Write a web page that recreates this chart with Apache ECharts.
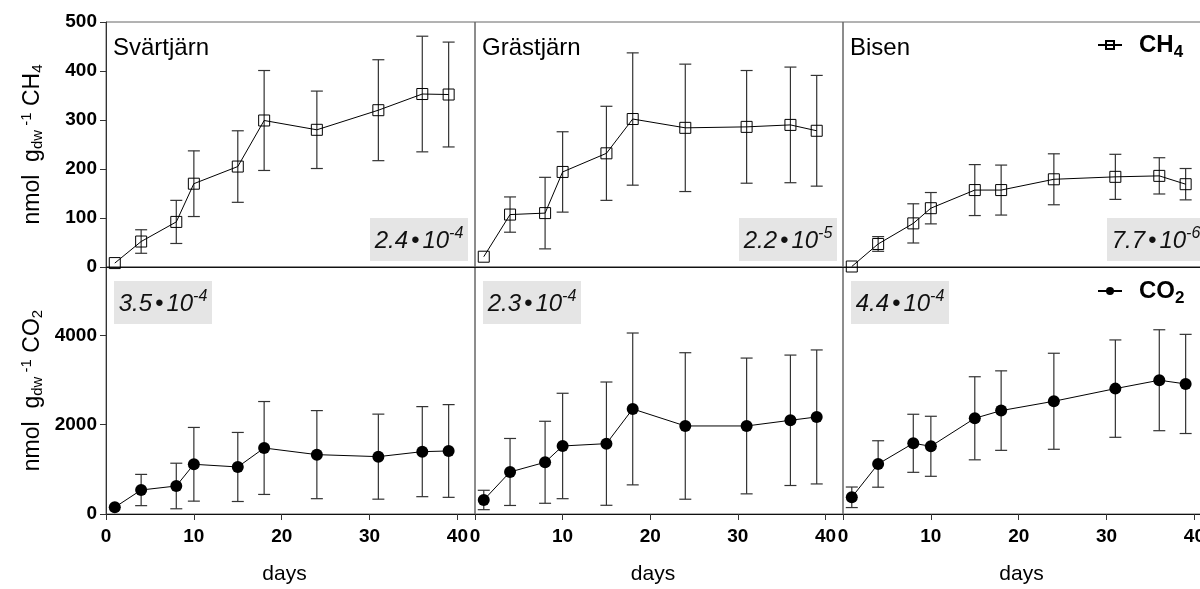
<!DOCTYPE html>
<html>
<head>
<meta charset="utf-8">
<script src="https://cdn.jsdelivr.net/npm/echarts@6/dist/echarts.min.js"></script>
<style>html,body{margin:0;padding:0;background:#fff}#c{width:1200px;height:589px}</style>
</head>
<body>
<div id="c"></div>
<script>
// ---- data ----
const days = [1, 4, 8, 10, 15, 18, 24, 31, 36, 39];
const sites = ['Svärtjärn', 'Grästjärn', 'Bisen'];

const ch4Svartjarn   = [8, 52, 92, 170, 205, 299, 280, 320, 353, 352];
const ch4SvartjarnSd = [0, 24, 44, 67, 73, 102, 79, 103, 118, 107];
const ch4Grastjarn   = [21, 107, 110, 194, 232, 302, 284, 286, 290, 278];
const ch4GrastjarnSd = [0, 36, 73, 82, 96, 135, 130, 115, 118, 113];
const ch4Bisen       = [1, 47, 89, 120, 157, 157, 179, 184, 186, 169];
const ch4BisenSd     = [0, 15, 40, 32, 52, 51, 52, 46, 37, 32];

const co2Svartjarn   = [150, 537, 627, 1113, 1053, 1478, 1329, 1284, 1396, 1411];
const co2SvartjarnSd = [0, 350, 510, 825, 773, 1040, 986, 952, 1008, 1038];
const co2Grastjarn   = [314, 941, 1158, 1523, 1575, 2352, 1971, 1971, 2098, 2173];
const co2GrastjarnSd = [217, 750, 918, 1180, 1380, 1700, 1640, 1520, 1460, 1500];
const co2Bisen       = [374, 1120, 1583, 1516, 2143, 2315, 2524, 2807, 2995, 2912];
const co2BisenSd     = [230, 520, 650, 672, 930, 890, 1075, 1090, 1130, 1110];

const ch4Rates = [['2.4', '-4'], ['2.2', '-5'], ['7.7', '-6']];
const co2Rates = [['3.5', '-4'], ['2.3', '-4'], ['4.4', '-4']];

const xTicks = [0, 10, 20, 30, 40];
const ch4Ticks = [0, 100, 200, 300, 400, 500];
const co2Ticks = [0, 2000, 4000];

// ---- layout ----
const FONT = "'Liberation Sans', Arial, Helvetica, sans-serif";
const colLeft = [106, 475, 843];
const colWidth = [369, 368, 369];
const rowTop = [22, 267];
const rowHeight = [245, 247];

const ch4Vals = [ch4Svartjarn, ch4Grastjarn, ch4Bisen];
const ch4Sds = [ch4SvartjarnSd, ch4GrastjarnSd, ch4BisenSd];
const co2Vals = [co2Svartjarn, co2Grastjarn, co2Bisen];
const co2Sds = [co2SvartjarnSd, co2GrastjarnSd, co2BisenSd];

const grid = [], xAxis = [], yAxis = [], series = [], graphic = [];

const titleRich = {
  t: { fontSize: 23, fontFamily: FONT, color: '#000' },
  sub: { fontSize: 15, fontFamily: FONT, color: '#000', padding: [10, 0, 0, 0] },
  sup: { fontSize: 15, fontFamily: FONT, color: '#000', padding: [0, 0, 13, 0] }
};

function errRender(params, api) {
  const x = api.value(0), y = api.value(1), sd = api.value(2);
  if (!sd) return null;
  const top = api.coord([x, y + sd]);
  const bot = api.coord([x, y - sd]);
  const hw = 6;
  const st = { stroke: '#333', lineWidth: 1.2 };
  return {
    type: 'group',
    children: [
      { type: 'line', shape: { x1: top[0], y1: top[1], x2: bot[0], y2: bot[1] }, style: st },
      { type: 'line', shape: { x1: top[0] - hw, y1: top[1], x2: top[0] + hw, y2: top[1] }, style: st },
      { type: 'line', shape: { x1: bot[0] - hw, y1: bot[1], x2: bot[0] + hw, y2: bot[1] }, style: st }
    ]
  };
}

for (let row = 0; row < 2; row++) {
  for (let col = 0; col < 3; col++) {
    const gi = row * 3 + col;
    grid.push({
      left: colLeft[col], top: rowTop[row], width: colWidth[col], height: rowHeight[row],
      outerBoundsMode: 'none', containLabel: false,
      show: true, borderColor: '#666', borderWidth: 1, backgroundColor: 'transparent'
    });
    xAxis.push({
      gridIndex: gi, type: 'value', min: 0, max: 42, interval: 10,
      axisLine: { show: true, onZero: false, lineStyle: { color: '#111', width: 1 } },
      axisTick: { show: row === 1, customValues: xTicks, length: 6, lineStyle: { color: '#333' } },
      axisLabel: { show: row === 1, customValues: xTicks, formatter: v => String(v), margin: 13,
                   fontFamily: FONT, fontSize: 19, fontWeight: 'bold', color: '#000' },
      splitLine: { show: false },
      name: row === 1 ? 'days' : '',
      nameLocation: 'middle', nameGap: 50,
      nameTextStyle: { fontFamily: FONT, fontSize: 21, color: '#000', padding: [0, 12, 0, 0] }
    });
    const isCh4 = row === 0;
    yAxis.push({
      gridIndex: gi, type: 'value', min: 0, max: isCh4 ? 500 : 5530, interval: isCh4 ? 100 : 2000,
      axisLine: { show: col === 0, onZero: false, lineStyle: { color: '#333', width: 1 } },
      axisTick: { show: col === 0, customValues: isCh4 ? ch4Ticks : co2Ticks, length: 6, lineStyle: { color: '#333' } },
      axisLabel: { show: col === 0, customValues: isCh4 ? ch4Ticks : co2Ticks, formatter: v => String(v), margin: 9,
                   fontFamily: FONT, fontSize: 19, fontWeight: 'bold', color: '#000' },
      splitLine: { show: false },
      name: col === 0 ? (isCh4 ? '{t|nmol  g}{sub|dw}{sup| -1}{t| CH}{sub|4}' : '{t|nmol  g}{sub|dw}{sup| -1}{t| CO}{sub|2}') : '',
      nameLocation: 'middle', nameRotate: 90, nameGap: 59,
      nameTextStyle: { fontFamily: FONT, fontSize: 23, color: '#000', rich: titleRich }
    });

    const vals = isCh4 ? ch4Vals[col] : co2Vals[col];
    const sds = isCh4 ? ch4Sds[col] : co2Sds[col];
    series.push({
      name: 'err', type: 'custom', xAxisIndex: gi, yAxisIndex: gi, z: 1, clip: false,
      renderItem: errRender, encode: { x: 0, y: 1 },
      data: days.map((d, i) => [d, vals[i], sds[i]]),
      silent: true
    });
    series.push({
      name: isCh4 ? 'CH4' : 'CO2', type: 'line', xAxisIndex: gi, yAxisIndex: gi, z: 3,
      data: days.map((d, i) => [d, vals[i]]),
      symbol: isCh4 ? 'rect' : 'circle', symbolSize: isCh4 ? 11 : 12,
      showAllSymbol: true, animation: false,
      lineStyle: { color: '#000', width: 1 },
      itemStyle: isCh4 ? { color: 'rgba(255,255,255,0)', borderColor: '#000', borderWidth: 1 }
                       : { color: '#000', borderColor: '#000', borderWidth: 0 },
      emphasis: { disabled: true }
    });

    // rate annotation boxes
    const rate = isCh4 ? ch4Rates[col] : co2Rates[col];
    const bx = isCh4 ? colLeft[col] + 264 : colLeft[col] + 8;
    const by = isCh4 ? 218 : 281;
    graphic.push({
      type: 'group', left: bx, top: by, z: 5,
      children: [
        { type: 'rect', shape: { x: 0, y: 0, width: 98, height: 43 }, style: { fill: '#e5e5e5' } },
        { type: 'text', x: 49, y: 23, style: {
            text: '{n|' + rate[0] + '}{b|•}{n|10}{s|' + rate[1] + '}',
            align: 'center', verticalAlign: 'middle',
            rich: {
              n: { fontFamily: FONT, fontSize: 24, fontStyle: 'italic', fill: '#111' },
              b: { fontFamily: FONT, fontSize: 24, fontStyle: 'italic', fill: '#111', padding: [0, 3, 0, 3] },
              s: { fontFamily: FONT, fontSize: 16, fontStyle: 'italic', fill: '#111', padding: [0, 0, 14, 0] }
            }
        } }
      ]
    });
  }
}
for (let col = 0; col < 3; col++) {
  graphic.push({
    type: 'text', left: colLeft[col] + 7, top: 36, z: 5,
    style: { text: sites[col], fontFamily: FONT, fontSize: 24, fill: '#000' }
  });
}

const legendText = () => ({
  fontFamily: FONT, color: '#000',
  rich: {
    b: { fontFamily: FONT, fontSize: 24, fontWeight: 'bold', color: '#000', padding: [0, 0, 0, 12] },
    s: { fontFamily: FONT, fontSize: 17, fontWeight: 'bold', color: '#000', padding: [14, 0, 0, 0] }
  }
});

const option = {
  animation: false,
  backgroundColor: '#fff',
  grid, xAxis, yAxis, series, graphic,
  legend: [
    { data: ['CH4'], left: 1092, top: 28, itemWidth: 24, itemHeight: 10, selectedMode: false,
      formatter: () => '{b|CH}{s|4}', textStyle: legendText() },
    { data: ['CO2'], left: 1092, top: 274, itemWidth: 24, itemHeight: 10, selectedMode: false,
      formatter: () => '{b|CO}{s|2}', textStyle: legendText() }
  ]
};

const chart = echarts.init(document.getElementById('c'), null, { renderer: 'canvas' });
chart.setOption(option);
</script>
</body>
</html>
